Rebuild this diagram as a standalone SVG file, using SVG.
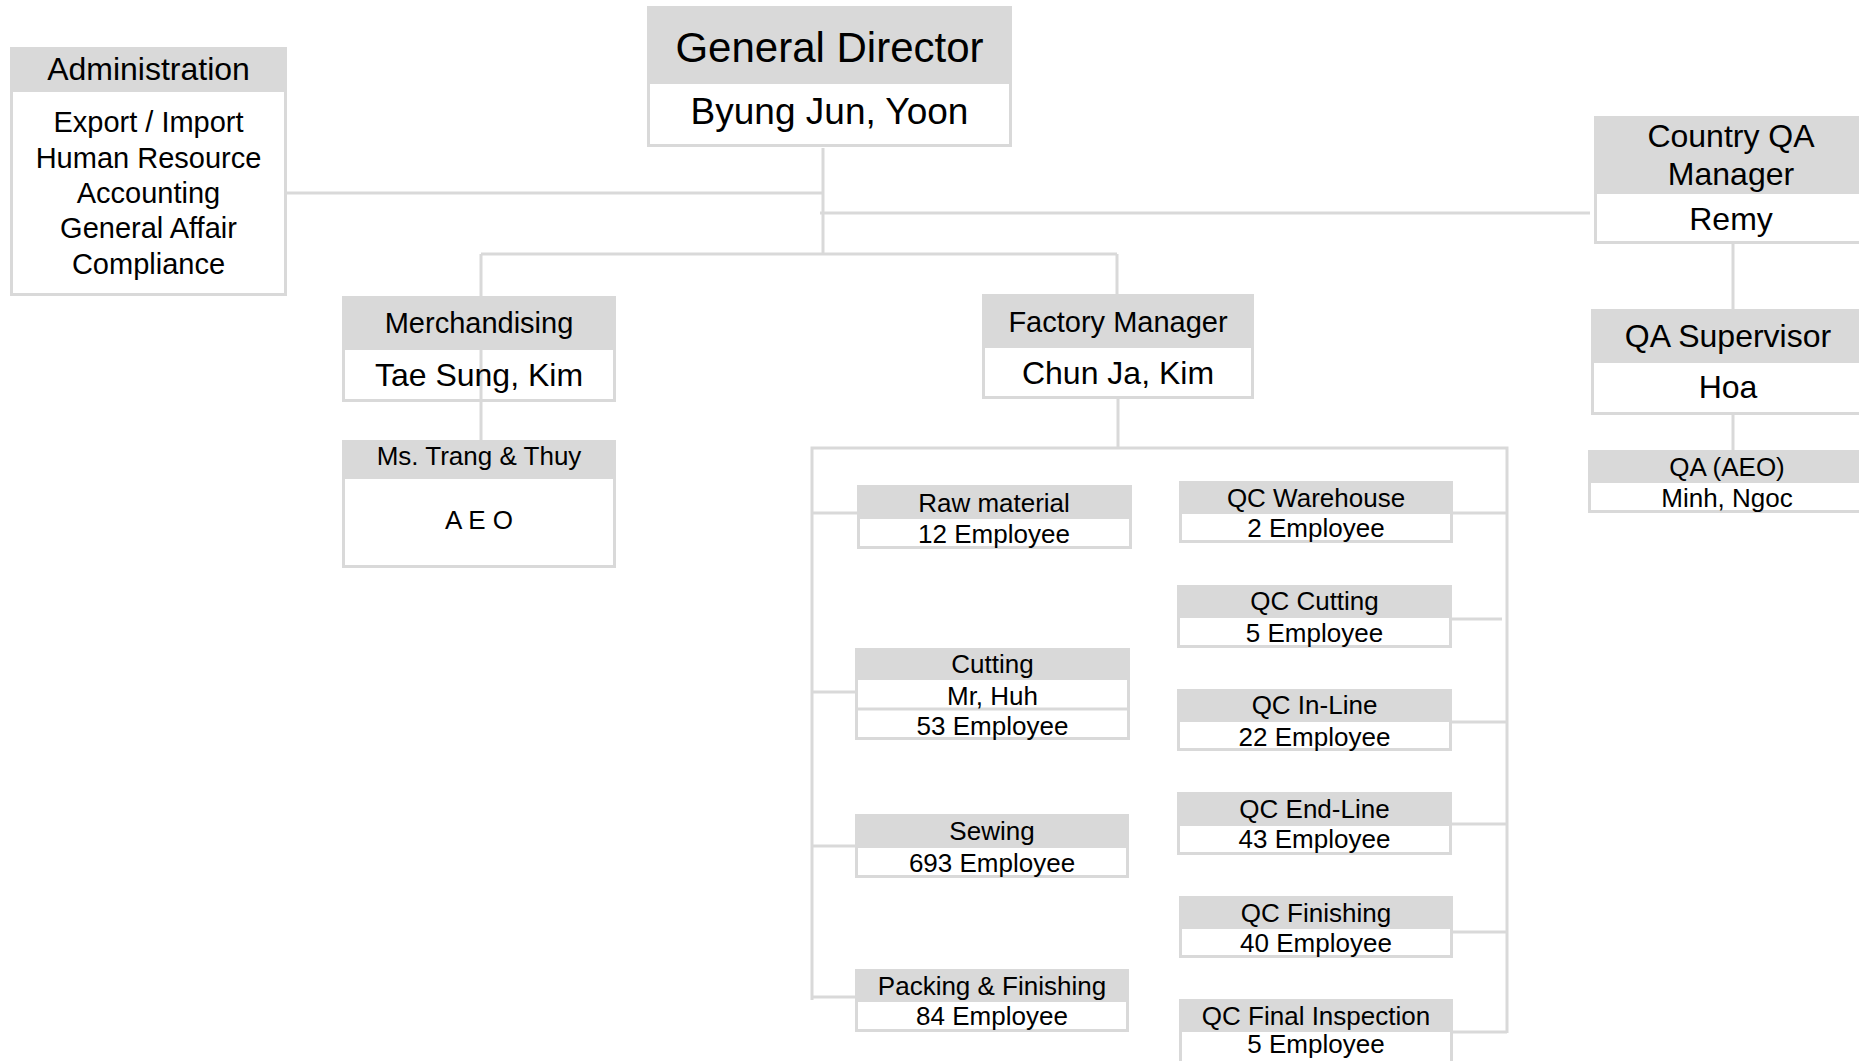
<svg xmlns="http://www.w3.org/2000/svg" width="1859" height="1061" viewBox="0 0 1859 1061">
<style>
.bg{fill:#fff}
.bx{fill:#fff;stroke:#d9d9d9;stroke-width:3}
.clear{fill:none}
.hd{fill:#d9d9d9}
.cn path,.dv{fill:none;stroke:#d9d9d9;stroke-width:3}
text{font-family:"Liberation Sans",Arial,sans-serif;text-anchor:middle;fill:#000}
.f42{font-size:42px}.f37{font-size:37px}.f32{font-size:32px}.f29{font-size:29px}.f26{font-size:26px}
</style>
<rect class="bg" x="0" y="0" width="1859" height="1061"/>
<g id="connectors" class="cn">
<path d="M287,193H823"/>
<path d="M823,148V254"/>
<path d="M820,213H1590"/>
<path d="M481,254H1117"/>
<path d="M481,254V440"/>
<path d="M1117,254V294"/>
<path d="M1118,399V448"/>
<path d="M812,1000V448H1507V1033"/>
<path d="M812,513H857"/>
<path d="M812,692H855"/>
<path d="M812,846H855"/>
<path d="M812,997H855"/>
<path d="M1453,513H1507"/>
<path d="M1452,619H1502"/>
<path d="M1452,722H1507"/>
<path d="M1452,824H1507"/>
<path d="M1453,932H1507"/>
<path d="M1453,1032H1507"/>
<path d="M1733,244V309"/>
<path d="M1733,415V450"/>
</g>
<g id="administration">
<rect class="bx" x="11.5" y="48.5" width="274" height="246"/>
<rect class="hd" x="10" y="47" width="277" height="45"/>
<text class="f32" x="148.5" y="80">Administration</text>
<text class="f29" x="148.5" y="132">Export / Import</text>
<text class="f29" x="148.5" y="167.5">Human Resource</text>
<text class="f29" x="148.5" y="203">Accounting</text>
<text class="f29" x="148.5" y="238">General Affair</text>
<text class="f29" x="148.5" y="273.5">Compliance</text>
</g>
<g id="general-director">
<rect class="bx" x="648.5" y="7.5" width="362" height="138"/>
<rect class="hd" x="647" y="6" width="365" height="78"/>
<text class="f42" x="829.5" y="62">General Director</text>
<text class="f37" x="829.5" y="124">Byung Jun, Yoon</text>
</g>
<g id="merchandising">
<rect class="bx clear" x="343.5" y="297.5" width="271" height="103"/>
<rect class="hd" x="342" y="296" width="274" height="54"/>
<text class="f29" x="479" y="333">Merchandising</text>
<text class="f32" x="479" y="386">Tae Sung, Kim</text>
</g>
<g id="aeo">
<rect class="bx" x="343.5" y="441.5" width="271" height="125"/>
<rect class="hd" x="342" y="440" width="274" height="39"/>
<text class="f26" x="479" y="465">Ms. Trang &amp; Thuy</text>
<text class="f26" x="479" y="529">A E O</text>
</g>
<g id="factory-manager">
<rect class="bx" x="983.5" y="295.5" width="269" height="102"/>
<rect class="hd" x="982" y="294" width="272" height="54"/>
<text class="f29" x="1118" y="332">Factory Manager</text>
<text class="f32" x="1118" y="384">Chun Ja, Kim</text>
</g>
<g id="country-qa-manager">
<rect class="bx" x="1595.5" y="117.5" width="300" height="125"/>
<rect class="hd" x="1594" y="116" width="300" height="78"/>
<text class="f32" x="1731" y="147">Country QA</text>
<text class="f32" x="1731" y="185">Manager</text>
<text class="f32" x="1731" y="230">Remy</text>
</g>
<g id="qa-supervisor">
<rect class="bx" x="1592.5" y="310.5" width="300" height="103"/>
<rect class="hd" x="1591" y="309" width="300" height="54"/>
<text class="f32" x="1728" y="347">QA Supervisor</text>
<text class="f32" x="1728" y="398">Hoa</text>
</g>
<g id="qa-aeo">
<rect class="bx" x="1589.5" y="451.5" width="300" height="60"/>
<rect class="hd" x="1588" y="450" width="300" height="33"/>
<text class="f26" x="1727" y="476">QA (AEO)</text>
<text class="f26" x="1727" y="507">Minh, Ngoc</text>
</g>
<g id="raw-material">
<rect class="bx" x="858.5" y="486.5" width="272" height="61"/>
<rect class="hd" x="857" y="485" width="275" height="34"/>
<text class="f26" x="994" y="512">Raw material</text>
<text class="f26" x="994" y="543">12 Employee</text>
</g>
<g id="cutting">
<rect class="bx" x="856.5" y="649.5" width="272" height="89"/>
<rect class="hd" x="855" y="648" width="275" height="32"/>
<line class="dv" x1="856" y1="709" x2="1129" y2="709"/>
<text class="f26" x="992.5" y="673">Cutting</text>
<text class="f26" x="992.5" y="705">Mr, Huh</text>
<text class="f26" x="992.5" y="735">53 Employee</text>
</g>
<g id="sewing">
<rect class="bx" x="856.5" y="815.5" width="271" height="61"/>
<rect class="hd" x="855" y="814" width="274" height="34"/>
<text class="f26" x="992" y="840">Sewing</text>
<text class="f26" x="992" y="872">693 Employee</text>
</g>
<g id="packing-finishing">
<rect class="bx" x="856.5" y="970.5" width="271" height="60"/>
<rect class="hd" x="855" y="969" width="274" height="33"/>
<text class="f26" x="992" y="995">Packing &amp; Finishing</text>
<text class="f26" x="992" y="1025">84 Employee</text>
</g>
<g id="qc-warehouse">
<rect class="bx" x="1180.5" y="482.5" width="271" height="59"/>
<rect class="hd" x="1179" y="481" width="274" height="33"/>
<text class="f26" x="1316" y="507">QC Warehouse</text>
<text class="f26" x="1316" y="537">2 Employee</text>
</g>
<g id="qc-cutting">
<rect class="bx" x="1178.5" y="586.5" width="272" height="60"/>
<rect class="hd" x="1177" y="585" width="275" height="33"/>
<text class="f26" x="1314.5" y="610">QC Cutting</text>
<text class="f26" x="1314.5" y="642">5 Employee</text>
</g>
<g id="qc-in-line">
<rect class="bx" x="1178.5" y="690.5" width="272" height="59"/>
<rect class="hd" x="1177" y="689" width="275" height="33"/>
<text class="f26" x="1314.5" y="714">QC In-Line</text>
<text class="f26" x="1314.5" y="746">22 Employee</text>
</g>
<g id="qc-end-line">
<rect class="bx" x="1178.5" y="793.5" width="272" height="60"/>
<rect class="hd" x="1177" y="792" width="275" height="34"/>
<text class="f26" x="1314.5" y="818">QC End-Line</text>
<text class="f26" x="1314.5" y="848">43 Employee</text>
</g>
<g id="qc-finishing">
<rect class="bx" x="1180.5" y="897.5" width="271" height="59"/>
<rect class="hd" x="1179" y="896" width="274" height="33"/>
<text class="f26" x="1316" y="922">QC Finishing</text>
<text class="f26" x="1316" y="952">40 Employee</text>
</g>
<g id="qc-final-inspection">
<rect class="bx" x="1180.5" y="1000.5" width="271" height="70"/>
<rect class="hd" x="1179" y="999" width="274" height="33"/>
<text class="f26" x="1316" y="1025">QC Final Inspection</text>
<text class="f26" x="1316" y="1053">5 Employee</text>
</g>
</svg>
